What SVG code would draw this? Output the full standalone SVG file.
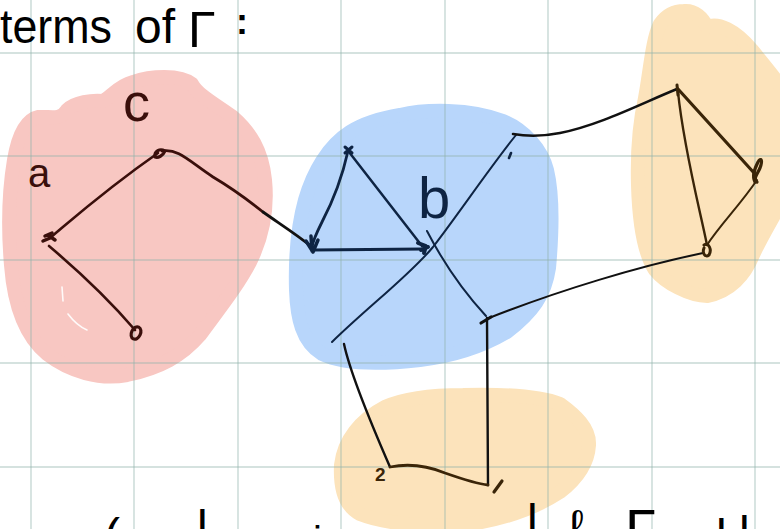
<svg xmlns="http://www.w3.org/2000/svg" width="780" height="529" viewBox="0 0 780 529">
<style>
.hand{font-family:"Liberation Sans","DejaVu Sans",sans-serif}
.blob{stroke-width:14;stroke-linejoin:round}
.red{fill:#f8c7c2;stroke:#f8c7c2}
.blue{fill:#b8d6fb;stroke:#b8d6fb}
.yel{fill:#fce3bb;stroke:#fce3bb}
.grid line{stroke:#8fb3ab;stroke-opacity:0.5;stroke-width:1.4}
.e{fill:none;stroke-linecap:round;stroke-linejoin:round}
.rb{stroke:#3a0f0b}
.nv{stroke:#0e2443}
.bk{stroke:#111}
.yb{stroke:#3a2508}
.mk{fill:none;stroke-linecap:round;stroke-linejoin:round}
</style>
<rect width="780" height="529" fill="#fff"/>
<g id="blobs">
<path class="blob red" d="M133,82 C150,76 180,74 192,84 C198,95 215,104 233,117 C250,132 262,150 265,180 C268,210 262,238 250,262 C238,285 222,305 200,335 C182,356 160,368 127,375 C100,380 70,372 47,354 C25,336 14,305 11,265 C8,230 9,190 14,160 C18,136 25,120 38,117 C50,116 60,121 67,110 C75,102 92,100 103,101 C112,96 118,86 133,82 Z"/>
<path class="blob blue" d="M400,115 C425,109 470,108 503,121 C525,130 542,150 547,170 C553,195 552,235 549,268 C545,295 533,312 507,332 C485,345 455,356 420,360 C385,364 345,365 322,354 C302,342 297,318 296,290 C295,255 298,225 305,200 C313,172 328,146 350,132 C366,122 382,118 400,115 Z"/>
<path class="blob yel" d="M684,11 C695,10 703,18 707,27 C718,22 735,30 752,50 C765,66 775,78 782,88 L782,200 C775,215 762,235 753,255 C745,275 730,292 707,296 C690,296 665,283 655,270 C643,252 639,220 638,185 C637,150 640,120 645,98 C650,72 652,40 660,24 C667,14 676,11 684,11 Z"/>
<path class="blob yel" d="M463,395 C500,394 540,396 560,404 C575,415 590,428 589,445 C588,462 578,478 560,492 C540,505 510,518 470,524 C430,528 385,524 360,514 C343,505 340,485 341,465 C344,440 360,420 385,407 C405,398 435,395 463,395 Z"/>
<path d="M62,287 L63,301 M68,314 C74,322 80,327 87,330" fill="none" stroke="#fff" stroke-width="1.6" stroke-linecap="round" opacity="0.9"/>
</g>
<g class="grid">
<line x1="31" y1="0" x2="31" y2="529"/><line x1="134" y1="0" x2="134" y2="529"/><line x1="238" y1="0" x2="238" y2="529"/><line x1="341" y1="0" x2="341" y2="529"/><line x1="445" y1="0" x2="445" y2="529"/><line x1="548" y1="0" x2="548" y2="529"/><line x1="652" y1="0" x2="652" y2="529"/><line x1="755" y1="0" x2="755" y2="529"/>
<line x1="0" y1="53" x2="780" y2="53"/><line x1="0" y1="156" x2="780" y2="156"/><line x1="0" y1="260" x2="780" y2="260"/><line x1="0" y1="363" x2="780" y2="363"/><line x1="0" y1="467" x2="780" y2="467"/>
</g>
<g id="title" class="hand" fill="#000">
<text x="0" y="43" font-size="48" textLength="112" lengthAdjust="spacingAndGlyphs">terms</text>
<text x="135" y="43" font-size="48">of</text>
<text x="188" y="47" font-size="50">Γ</text>
<text x="236" y="34" font-size="36" font-weight="bold">:</text>
</g>
<g id="connectors">
<path class="e rb" stroke-width="2.6" d="M50,238 C75,217 105,190 158,153"/>
<path class="e rb" stroke-width="2.6" d="M49,246 C75,268 105,295 135,330"/>
<path class="e rb" stroke-width="2.8" d="M162,151 C178,148 190,162 213,177 C235,190 248,200 263,212"/>
<path class="e bk" stroke-width="2.8" d="M263,212 C280,224 296,234 312,247"/>
<path class="e nv" stroke-width="2.8" d="M348,151 C342,178 332,203 322,222 C316,234 313,240 312,247"/>
<path class="e nv" stroke-width="2.5" d="M349,152 L422,246"/>
<path class="e nv" stroke-width="3.2" d="M313,250 L423,249"/>
<path class="e nv" stroke-width="2" d="M332,342 C370,305 410,275 433,247 C460,212 488,170 516,135"/>
<path class="e nv" stroke-width="2" d="M427,231 C443,262 462,290 486,316"/>
<path class="e bk" stroke-width="2.6" d="M513,134 C530,137 545,136 560,133 C600,125 640,104 677,89"/>
<path class="e bk" stroke-width="2" d="M489,318 C560,290 640,266 703,253"/>
<path class="e bk" stroke-width="2.4" d="M487,318 L488,485"/>
<path class="e bk" stroke-width="2.4" d="M344,344 C350,372 366,412 390,467"/>
<path class="e yb" stroke-width="2.8" d="M390,467 C410,463 428,466 445,473 C465,480 478,484 488,485"/>
<path class="e yb" stroke-width="3.2" d="M678,89 L755,174"/>
<path class="e yb" stroke-width="2.4" d="M678,92 C684,150 700,210 707,245"/>
<path class="e yb" stroke-width="2" d="M757,180 C740,205 720,225 707,245"/>
</g>
<g id="node-a"><path class="mk rb" stroke-width="3.5" d="M43,241 L50,238 M45,236 L52,233 M48,235 L55,240"/><text class="hand" x="28" y="187" font-size="40" fill="#3a0f0b">a</text></g>
<g id="node-c"><path class="mk rb" stroke-width="3.2" d="M155,157 C154,151 160,148 165,151 C163,156 158,158 155,157"/><text class="hand" x="123" y="121" font-size="54" fill="#3a0f0b">c</text></g>
<g id="node-o"><ellipse cx="136" cy="333" rx="4.5" ry="6.5" transform="rotate(25 136 333)" fill="none" stroke="#3a0f0b" stroke-width="3.2"/></g>
<g id="node-b-top"><path class="mk nv" stroke-width="3" d="M345,147 L352,153 M352,147 L345,153"/></g>
<g id="node-b-left"><path class="mk nv" stroke-width="3.5" d="M306,241 L313,252 L318,240 M311,236 L312,251"/></g>
<g id="node-b-right"><path class="mk nv" stroke-width="4" d="M418,243 L426,246 L424,253 M421,250 L428,247"/><text class="hand" x="418" y="218" font-size="58" fill="#0e2443">b</text></g>
<g id="node-b-ur"><path class="mk nv" stroke-width="2.6" d="M509,158 L511,153"/></g>
<g id="node-b-lr"><path class="mk bk" stroke-width="3.2" d="M481,323 L491,317"/></g>
<g id="node-y-top"><path class="mk yb" stroke-width="3" d="M677,85 L678,95"/></g>
<g id="node-y-right"><path class="mk yb" stroke-width="3.2" d="M755,182 C752,176 754,170 758,162 C761,157 763,160 760,168 C757,175 753,178 757,182"/></g>
<g id="node-y-bot"><path class="mk yb" stroke-width="3" d="M704,245 C709,242 712,250 709,255 C705,258 702,253 704,248"/></g>
<g id="node-2"><text class="hand" x="375" y="481" font-size="19" font-weight="bold" fill="#3a2508">2</text></g>
<g id="node-1"><path class="mk yb" stroke-width="3.2" d="M494,492 L502,481"/></g>
<g id="bottom-text" class="hand" fill="#000">
<text x="104" y="552" font-size="48">(</text>
<text x="197" y="544" font-size="48">l</text>
<text x="313" y="555" font-size="40">i</text>
<text x="527" y="538" font-size="48">l</text>
<text x="569" y="542" font-size="46">ℓ</text>
<text x="625" y="548" font-size="56">Γ</text>
<text x="716" y="553" font-size="48">l</text>
<text x="739" y="550" font-size="48">l</text>
</g>
</svg>
